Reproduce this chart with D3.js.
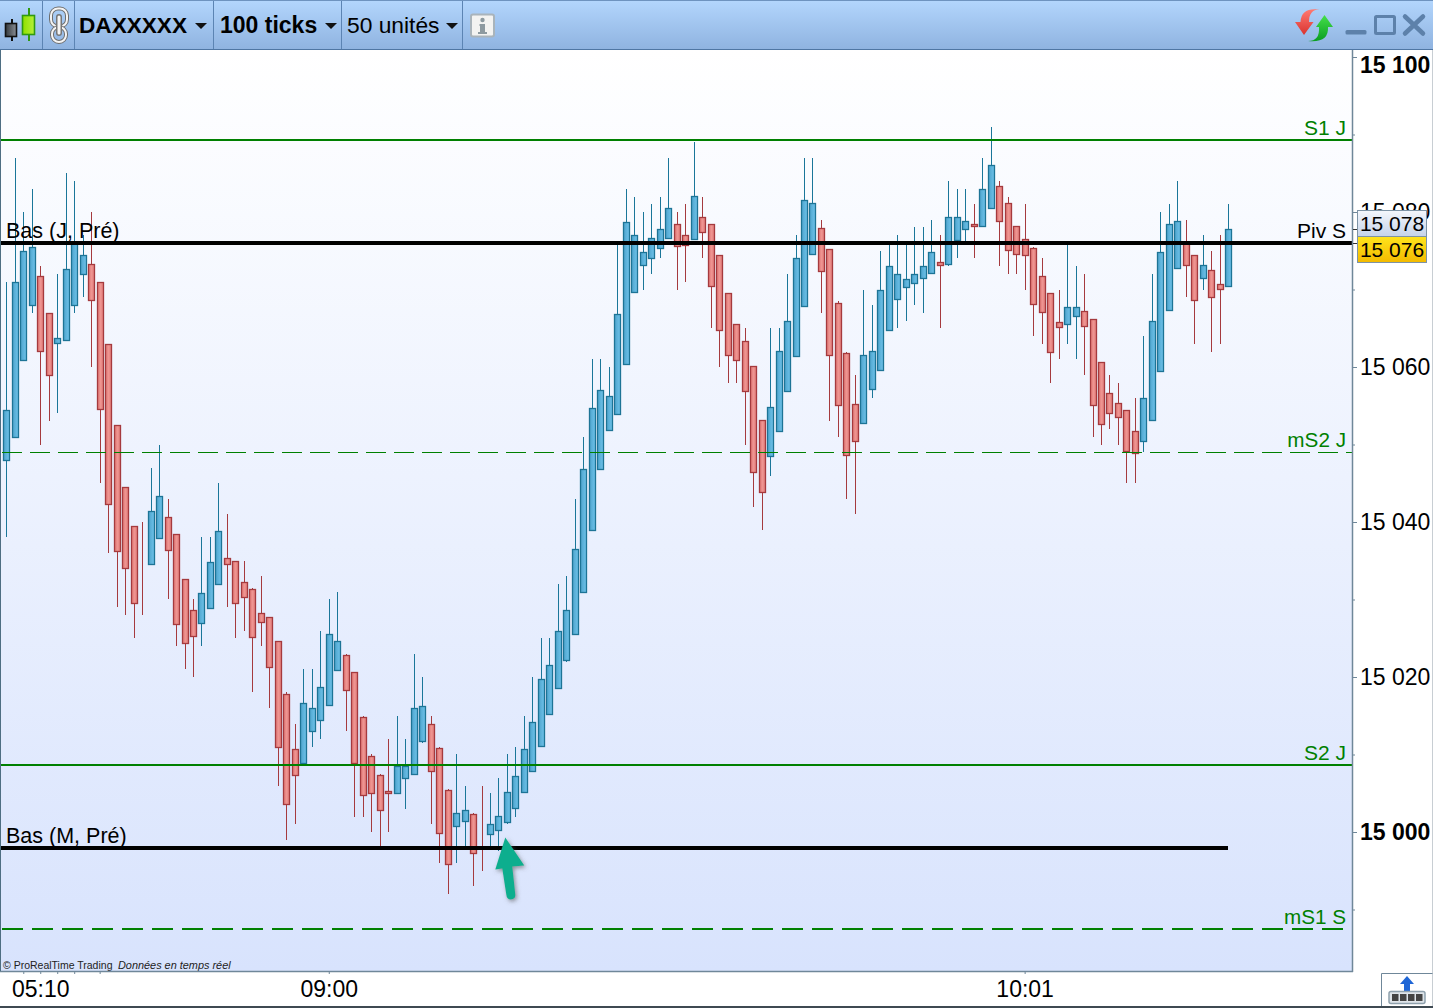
<!DOCTYPE html>
<html>
<head>
<meta charset="utf-8">
<title>DAXXXXX 100 ticks</title>
<script src="https://cdnjs.cloudflare.com/ajax/libs/d3/7.8.5/d3.min.js"></script>
<style>
html,body{margin:0;padding:0;background:#fff;overflow:hidden}
svg{display:block}
text{font-family:"Liberation Sans",Arial,sans-serif}
</style>
</head>
<body>
<svg id="chart" width="1433" height="1008" viewBox="0 0 1433 1008"></svg>
<script>
const highs=[15071,15087,15080,15083,15073,15067,15072,15085,15084,15077,
15080,15071,15063,15052.5,15044.5,15039.5,15040,15047,15050,15043,
15038.5,15032.5,15030,15038,15038,15045,15041,15035,15035,15031.5,
15033,15027.5,15024.5,15018,15014,15021,15021,15026,15030,15031,
15023,15020.5,15015,15010,15007.5,15012,15015,15012,15023,15020,
15015,15011,15005.5,15010,15006,15002.5,15006,15005,15007,15010,
15011,15015,15020,15025,15025,15032,15033,15043,15051,15061,
15061,15060,15076,15083,15082,15080,15081,15082,15087,15080,
15081,15089,15082,15078.5,15074.5,15069.5,15065.5,15065,15060,15053,
15065,15065,15072,15077,15087,15087,15079,15075,15068.5,15062,
15059,15070,15068,15075,15076,15077,15076,15078,15078,15079,
15077,15084,15083,15083,15081,15087,15091,15084,15082,15078,
15081,15075.5,15074,15069.5,15070,15076,15073,15072,15066,15060.5,
15059,15058,15054.5,15056,15064,15072,15080,15081,15084,15079,
15074.5,15077,15075,15077,15081];
const lows=[15038,15051,15061,15067,15050,15053,15054,15063.5,15067,15069,
15060,15045,15036,15029,15028,15025,15028,15034.5,15038,15030,
15024,15021,15020,15024,15029,15032,15029,15025,15026,15018,
15024,15016,15006,14999,15001,15009,15011,15012,15016.5,15021,
15013,15002,15002,15000,14998,15000,15005,15003,15007.5,15011.5,
15001,14996,14992,14996,14998,14993,14995,14998,14997.5,15001,
15002,15005,15008,15011,15015.5,15018.5,15022,15025.5,15031,15039,
15047,15052,15054,15060.5,15069.5,15070,15072,15074,15076.5,15070,
15071,15076.5,15074,15065,15060,15058,15058,15050,15042,15039,
15046,15052,15057,15061.5,15068,15074.5,15067,15053,15051,15043,
15041,15053,15056,15059.5,15065,15065,15066,15068,15067,15072,
15065,15073,15074,15076,15074,15078,15080.5,15073,15072,15072,
15070,15064,15063,15058,15061,15063,15061,15059,15051,15050,
15052,15050,15045,15045,15049,15053,15059.5,15067.5,15073,15069,
15063,15070,15062,15063,15070.5];
const opens=[15048,15051,15061,15068,15071.7,15067,15063,15063.5,15068,15072,
15073.3,15071,15063,15052.5,15044.5,15039.5,15034.5,15034.5,15038,15040.7,
15038.5,15032.7,15028.6,15027,15029,15032,15035.4,15035,15032.3,15031.4,
15028.3,15027.7,15024.6,15017.8,15010.7,15009,15013,14.5+15000,15016.5,15021,
15022.9,15020.7,15014.8,15009.8,15007.4,15005.3,15005,15007,15007.5,15011.7,
15014,15010.9,15005.4,15000.7,15001.5,15002.3,15000,14999.7,15000.3,15001.2,
15003.1,15005.2,15007.9,15011,15015.3,15018.5,15022.2,15025.5,15031,15039,
15046.8,15051.8,15054,15060.4,15069.6,15073.2,15074.1,15075.4,15076.6,15078.5,
15077,15076.6,15079.4,15078.4,15074.4,15069.6,15065.6,15063.3,15060.1,15053.2,
15048.6,15051.8,15056.9,15061.5,15067.8,15074.6,15077.9,15075.2,15068.3,15061.8,
15055.2,15052.8,15057.2,15059.6,15064.8,15068.8,15070.4,15070.9,15071.4,15072.2,
15073.6,15073.3,15076.4,15077.9,15078.4,15078.2,15080.6,15083.4,15081.2,15078.2,
15076.5,15075.4,15071.8,15069.5,15065.8,15065.5,15066.5,15067.2,15066.2,15060.7,
15056.7,15055.4,15054.5,15051.8,15050.4,15053.1,15059.5,15067.3,15072.8,15076,
15074.5,15071.5,15072.5,15070.7,15070.4];
const closes=[15054.4,15071,15075,15075.5,15062,15059,15063.7,15072.7,15076,15074.4,
15068.7,15054.6,15042.4,15036.2,15034,15029.6,15034.5,15041.4,15043.4,15036.4,
15026.9,15024.4,15025.2,15030.9,15034.9,15038.9,15034.6,15029.6,15030.4,15025.2,
15027.1,15021.3,15010.9,15003.6,15007.4,15016.7,15016,15018.7,15025.6,15024.7,
15018.4,15008.9,15004.7,15005,15002.9,15005,15008.5,15008.5,15016,15016.2,
15007.9,14999.9,14995.9,15002.4,15002.9,14997.3,15000,15001,15002.1,15005.1,
15007.2,15010.7,15014.2,15019.7,15021.6,15025.9,15028.7,15036.5,15046.9,15054.7,
15057,15056.2,15066.9,15078.7,15077,15074.9,15076.7,15077.8,15080.5,15075.6,
15075.7,15082.1,15077.5,15070.4,15064.7,15061.6,15061,15056.9,15046.4,15043.9,
15054.9,15062.1,15065.9,15074.1,15081.5,15081.2,15072.4,15061.5,15055.1,15048.7,
15050.4,15061.6,15062.1,15069.9,15073,15072,15071.4,15072,15073,15074.9,
15073.2,15079.4,15079.4,15078.9,15078.2,15083,15086.1,15078.9,15075.1,15074.6,
15074.4,15068.2,15067.1,15061.9,15065.2,15067.7,15067.7,15065.2,15055.1,15052.7,
15054.1,15053.6,15049.2,15049,15056,15065.9,15074.9,15078.4,15078.9,15073.2,
15068.7,15073.2,15069,15070.1,15077.8];

const priceTicks=[15100,15090,15080,15070,15060,15050,15040,15030,15020,15010,15000,14990];
const boldPrices=[15100,15000];
const timeTickIdx=[2,4,6,8,11,38,120];
const timeLabels=["","05:10","","","","09:00","10:01"];

const levelNames=["S1 J","Piv S","mS2 J","S2 J","Bas (M, Pré)","mS1 S","Bas (J, Pré)"];
const levelPrices=[15089.3,15076,15049,15008.6,14997.9,14987.5,15076];

const lastPrice=15078, pivPrice=15076;

const svg=d3.select("#chart");
const W=1433,H=1008,plotL=1,plotR=1352,plotT=50,plotB=971;
const x=d3.scaleLinear().domain([0,opens.length-1]).range([6.3,1228.3]);
const y=d3.scaleLinear().domain([15100,14982]).range([57,971.5]);
const px=i=>Math.round(x(i))+0.5;
const py=v=>Math.round(y(v))+0.5;
const fmt=v=>String(v).replace(/(\d{2})(\d{3})/,"$1 $2");

const defs=svg.append("defs");
function lin(id,stops,hor){
  const g=defs.append("linearGradient").attr("id",id).attr("x1",0).attr("y1",0)
    .attr("x2",hor?1:0).attr("y2",hor?0:1);
  stops.forEach(s=>g.append("stop").attr("offset",s[0]).attr("stop-color",s[1]));
}
lin("bg",[[0,"#ffffff"],[1,"#d8e3fd"]]);
lin("bar",[[0,"#b3d6fd"],[1,"#8fb3e0"]]);
lin("up",[[0,"#4ea4cd"],[1,"#6fc3ea"]],true);
lin("dn",[[0,"#df7673"],[.5,"#ee9491"],[1,"#e27c79"]],true);
lin("box1",[[0,"#f4f7fc"],[1,"#c5d3e9"]]);
lin("box2",[[0,"#ffe41c"],[1,"#f3ba00"]]);
lin("cg",[[0,"#8fe000"],[1,"#b6f03a"]],true);
lin("cd",[[0,"#33383c"],[1,"#8a8f96"]],true);
lin("rArrow",[[0,"#ff7a72"],[1,"#d9332f"]]);
lin("gArrow",[[0,"#45e04a"],[1,"#0a9d22"]]);
const sh=defs.append("filter").attr("id","shadow").attr("x","-40%").attr("y","-40%").attr("width","200%").attr("height","200%");
sh.append("feDropShadow").attr("dx",1.5).attr("dy",2).attr("stdDeviation",2).attr("flood-color","#555").attr("flood-opacity",.6);

/* plot background */
svg.append("rect").attr("x",plotL).attr("y",plotT).attr("width",plotR-plotL).attr("height",plotB-plotT).attr("fill","url(#bg)");

/* candles */
const data=opens.map((o,i)=>({i,o,c:closes[i],h:highs[i],l:lows[i],up:closes[i]>o}));
const gc=svg.append("g").attr("class","candles");
gc.selectAll("line").data(data).join("line")
  .attr("x1",d=>px(d.i)).attr("x2",d=>px(d.i))
  .attr("y1",d=>Math.round(y(d.h))).attr("y2",d=>Math.round(y(d.l)))
  .attr("stroke",d=>d.up?"#1a7699":"#a53a3e").attr("stroke-width",1);
gc.selectAll("rect").data(data).join("rect")
  .attr("x",d=>px(d.i)-3).attr("width",6)
  .attr("y",d=>py(Math.max(d.o,d.c)))
  .attr("height",d=>Math.max(0,Math.round(Math.abs(y(d.o)-y(d.c)))-0))
  .attr("fill",d=>d.up?"url(#up)":"url(#dn)")
  .attr("stroke",d=>d.up?"#1d7496":"#a53a3e").attr("stroke-width",1.3);

/* horizontal levels */
const levelStyle=[
 {c:"#008000",w:2,end:plotR,lx:1346,anchor:"end",fs:21},
 {c:"#000",w:4,end:plotR,lx:1346,anchor:"end",fs:21},
 {c:"#008000",w:1.2,end:plotR,dash:"20 8",off:-1,lx:1346,anchor:"end",fs:20.7},
 {c:"#008000",w:2,end:plotR,lx:1346,anchor:"end",fs:21},
 {c:"#000",w:4,end:Math.round(x(opens.length-1)),lx:6,anchor:"start",fs:21.5},
 {c:"#008000",w:2,end:plotR,dash:"21 9",off:-1,lx:1346,anchor:"end",fs:20.7},
 {c:"#000",w:0,end:plotR,lx:6,anchor:"start",fs:21.5}
];
const gl=svg.append("g").attr("class","levels");
levelNames.forEach((n,k)=>{
  const s=levelStyle[k],yy=Math.round(y(levelPrices[k]));
  const ly=s.w%2===0?yy:yy+0.5;
  if(s.w>0){
    gl.append("line").attr("x1",plotL).attr("x2",s.end).attr("y1",ly).attr("y2",ly)
      .attr("stroke",s.c).attr("stroke-width",s.w).attr("stroke-dasharray",s.dash||null)
      .attr("stroke-dashoffset",s.off||null);
  }
  gl.append("text").attr("x",s.lx).attr("y",yy-5).attr("text-anchor",s.anchor)
    .attr("font-size",s.fs).attr("fill",s.w===0||s.c==="#000"?"#000":"#008000").text(n);
});

/* arrow annotation */
const ax=x(58.8),ay=y(14999.3);
svg.append("g").attr("transform",`translate(${ax},${ay})`).attr("filter","url(#shadow)")
  .call(g=>{
    g.append("path").attr("d","M0,0L19,28L7,29L10,57Q10.5,62 5.5,62Q1.5,62 1,57L-3,31L-10,32Z").attr("fill","#0fae8e");
  });

/* copyright */
svg.append("text").attr("x",3).attr("y",969).attr("font-size",10.5).attr("fill","#222").text("© ProRealTime Trading");
svg.append("text").attr("x",118).attr("y",969).attr("font-size",10.9).attr("font-style","italic").attr("fill","#222").text("Données en temps réel");

/* y axis */
const gy=svg.append("g").attr("transform",`translate(${plotR},0)`)
  .call(d3.axisRight(y).tickValues(priceTicks).tickSize(4).tickPadding(4)
    .tickFormat(v=>v%20===0?fmt(v):""));
gy.select(".domain").attr("d",`M0.5,${plotT}V${plotB+1}`).attr("stroke","#6f8799").attr("stroke-width",1.5);
gy.selectAll(".tick line").attr("stroke","#6f8799").attr("x2",d=>d%20===0?5:3);
gy.selectAll(".tick text")
  .attr("x",8).attr("font-size",23).attr("fill","#000")
  .attr("font-family","'Liberation Sans',Arial,sans-serif")
  .attr("font-weight",d=>boldPrices.includes(d)?"bold":"normal")
  .attr("dy",d=>d===15100?"0.68em":"0.33em");

/* x axis */
const gx=svg.append("g").attr("transform",`translate(0,${plotB})`)
  .call(d3.axisBottom(x).tickValues(timeTickIdx).tickSize(3).tickPadding(7)
    .tickFormat(v=>timeLabels[timeTickIdx.indexOf(v)]));
gx.select(".domain").attr("d",`M0,0.5H${plotR+1}`).attr("stroke","#6f8799").attr("stroke-width",1.5);
gx.selectAll(".tick line").attr("stroke","#6f8799");
gx.selectAll(".tick text").attr("font-size",23).attr("fill","#000")
  .attr("font-family","'Liberation Sans',Arial,sans-serif");

/* price boxes */
function box(yTop,h,fill,val){
  svg.append("rect").attr("x",1357.5).attr("y",yTop).attr("width",69).attr("height",h)
    .attr("fill",fill).attr("stroke","#7d93a5").attr("stroke-width",1);
  svg.append("text").attr("x",1392).attr("y",yTop+h/2+7.5).attr("text-anchor","middle")
    .attr("font-size",21).attr("fill","#000").text(fmt(val));
}
svg.append("path").attr("d","M1353,229.5h5M1353,243.5h5").attr("stroke","#333");
box(210.5,26,"url(#box1)",lastPrice);
box(236.5,26,"url(#box2)",pivPrice);

/* toolbar */
const tb=svg.append("g");
tb.append("rect").attr("width",W).attr("height",49.5).attr("fill","url(#bar)");
tb.append("path").attr("d","M0,49.5H1433").attr("stroke","#4f76a3").attr("stroke-width",1.2);
tb.append("path").attr("d","M0,.5H1433").attr("stroke","#6e93bf");
tb.selectAll("line.sep").data([42.5,74.5,213.5,341.5,462.5]).join("line").attr("class","sep")
  .attr("x1",d=>d).attr("x2",d=>d).attr("y1",1).attr("y2",49).attr("stroke","#5c84b3");
/* candle icon */
tb.append("path").attr("d","M12,19V41").attr("stroke","#111").attr("stroke-width",2);
tb.append("rect").attr("x",5.5).attr("y",23.5).attr("width",11).attr("height",13).attr("fill","url(#cd)").attr("stroke","#111").attr("stroke-width",1.6);
tb.append("path").attr("d","M29,8V41").attr("stroke","#2f9a10").attr("stroke-width",2);
tb.append("rect").attr("x",22.5).attr("y",15.5).attr("width",12).attr("height",19).attr("fill","url(#cg)").attr("stroke","#2f9a10").attr("stroke-width",1.6);
/* chain icon */
[[51,8.5,16,18],[52,27,14,15]].forEach(r=>{
  tb.append("rect").attr("x",r[0]).attr("y",r[1]).attr("width",r[2]).attr("height",r[3]).attr("rx",7)
    .attr("fill","none").attr("stroke","#6e6e6e").attr("stroke-width",4);
  tb.append("rect").attr("x",r[0]).attr("y",r[1]).attr("width",r[2]).attr("height",r[3]).attr("rx",7)
    .attr("fill","none").attr("stroke","#f4f4f4").attr("stroke-width",2);
});
tb.append("path").attr("d","M59,17V33").attr("stroke","#777").attr("stroke-width",6).attr("stroke-linecap","round");
tb.append("path").attr("d","M59,17V33").attr("stroke","#f4f4f4").attr("stroke-width",3).attr("stroke-linecap","round");
/* toolbar labels */
const tri=(cx)=>`M${cx-6},23H${cx+6}L${cx},29Z`;
[["DAXXXXX",79,"bold",201,22.6],["100 ticks",220,"bold",331,23],["50 unités",347,"normal",452,22.8]].forEach(t=>{
  tb.append("text").attr("x",t[1]).attr("y",33).attr("font-size",t[4]).attr("font-weight",t[2]).attr("fill","#000").text(t[0]);
  tb.append("path").attr("d",tri(t[3])).attr("fill","#111");
});
/* info icon */
tb.append("rect").attr("x",471).attr("y",14.5).attr("width",23).attr("height",22).attr("rx",2).attr("fill","#f3f3f1").attr("stroke","#a9b4bb").attr("stroke-width",2);
tb.append("circle").attr("cx",482.5).attr("cy",20).attr("r",2.2).attr("fill","#8d9aa0");
tb.append("path").attr("d","M479.5,24H485V32H487V34H478V32H480V26H479.5Z").attr("fill","#8d9aa0");
/* refresh arrows */
tb.append("path").attr("d","M1320,9.5Q1309,9 1309,22H1313.5L1304,35L1295,22H1300.5Q1301,7 1320,9.5Z").attr("fill","url(#rArrow)");
tb.append("path").attr("d","M1308,41Q1320,41 1319,27H1316L1324.5,15L1333,27H1328Q1329,43 1308,41Z").attr("fill","url(#gArrow)");
/* window buttons */
tb.append("rect").attr("x",1345.5).attr("y",30).attr("width",21).attr("height",4.5).attr("rx",1.5).attr("fill","#5d81aa");
tb.append("rect").attr("x",1375.5).attr("y",16.5).attr("width",19).attr("height",17).attr("rx",1).attr("fill","none").attr("stroke","#5d81aa").attr("stroke-width",3);
tb.append("path").attr("d","M1405,16.5L1423,33.5M1423,16.5L1405,33.5").attr("stroke","#5d81aa").attr("stroke-width",4.5).attr("stroke-linecap","round");

/* frame */
svg.append("path").attr("d","M0.5,50V971").attr("stroke","#4e6e82").attr("fill","none");
svg.append("rect").attr("x",0).attr("y",1006).attr("width",W).attr("height",2).attr("fill","#3f4a52");
svg.append("path").attr("d","M1432.5,50V1006").attr("stroke","#c8ced3").attr("fill","none");

/* bottom-right button */
svg.append("path").attr("d","M1381.5,1006V973.5H1432.5").attr("fill","none").attr("stroke","#6f8799");
svg.append("path").attr("d","M1407,976L1414,984H1410V991H1404V984H1400Z").attr("fill","#1f66d6");
svg.append("rect").attr("x",1389).attr("y",991.5).attr("width",36).attr("height",12).attr("rx",2).attr("fill","#dfe5ea").attr("stroke","#8fa1ad").attr("stroke-width",1.5);
svg.selectAll("rect.key").data([0,1,2,3]).join("rect").attr("class","key")
  .attr("x",d=>1392+d*8).attr("y",994).attr("width",6.5).attr("height",7).attr("fill","#444");
</script>
</body>
</html>
